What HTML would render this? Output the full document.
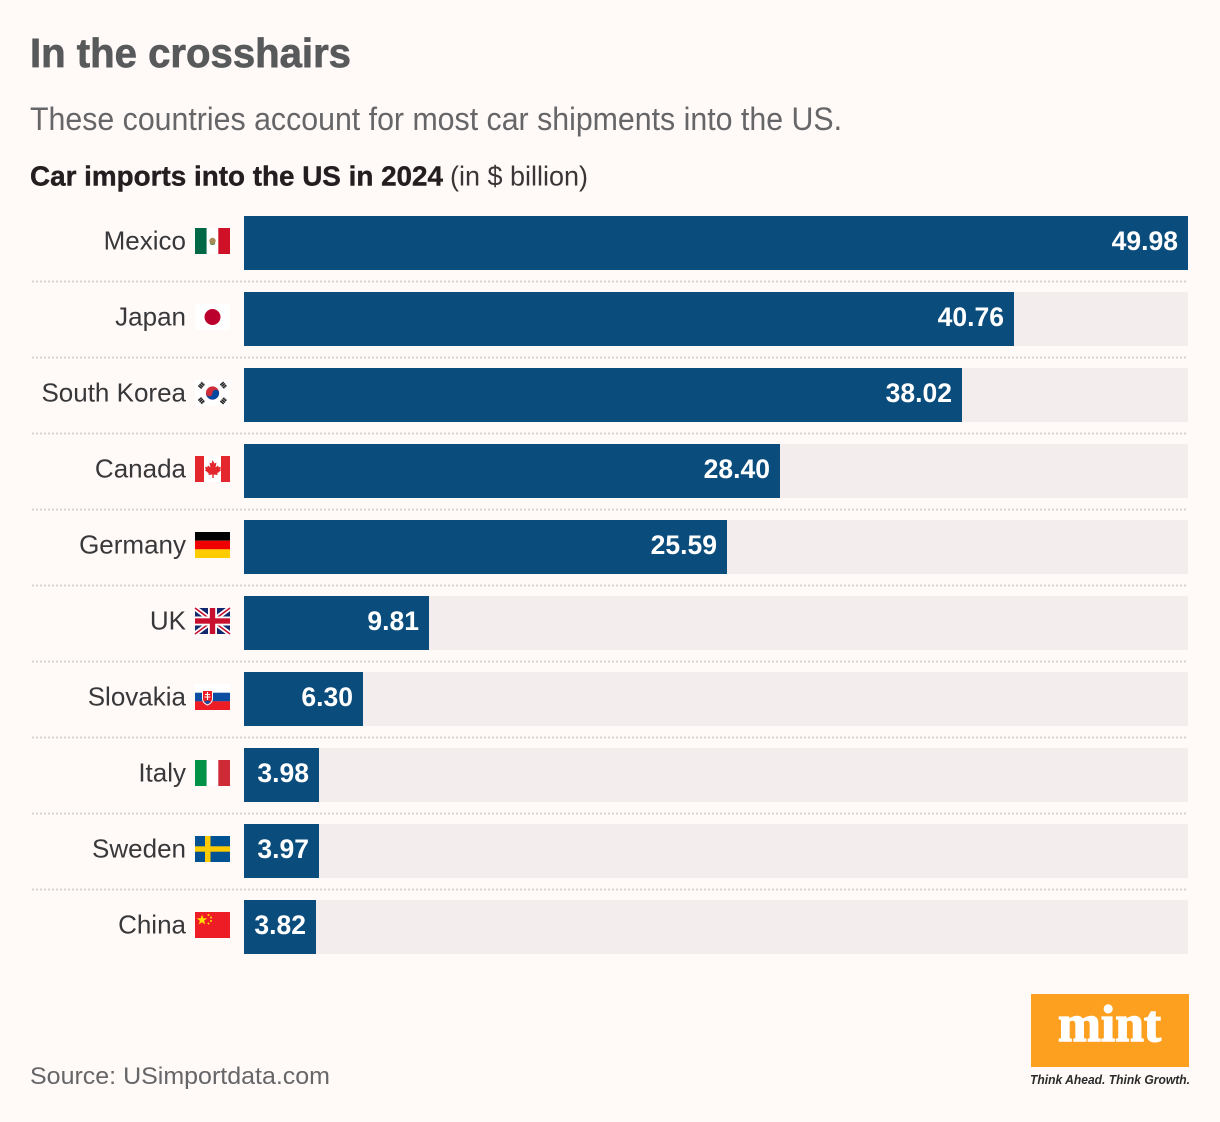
<!DOCTYPE html>
<html lang="en">
<head>
<meta charset="utf-8">
<title>In the crosshairs</title>
<style>
html,body{margin:0;padding:0;background:#fff9f8;}
svg{display:block;font-family:"Liberation Sans",sans-serif;}
</style>
</head>
<body>
<svg id="chart" xmlns="http://www.w3.org/2000/svg" width="1220" height="1122" viewBox="0 0 1220 1122">
  <rect x="0" y="0" width="1220" height="1122" fill="#fff9f8"/>
  <text x="30" y="67" font-size="40.500" font-weight="700" fill="#58595b" stroke="#58595b" stroke-width="0.7" textLength="321" lengthAdjust="spacingAndGlyphs">In the crosshairs</text>
  <text x="30" y="130" font-size="32" fill="#666668" textLength="812" lengthAdjust="spacingAndGlyphs">These countries account for most car shipments into the US.</text>
  <text x="30" y="185.500" font-size="28" font-weight="700" fill="#231f20" stroke="#231f20" stroke-width="0.4" textLength="413" lengthAdjust="spacingAndGlyphs">Car imports into the US in 2024</text>
  <text x="450" y="185.500" font-size="28" fill="#3a3637" textLength="138" lengthAdjust="spacingAndGlyphs">(in $ billion)</text>
  <g id="rows"></g>
  <text x="30" y="1084" font-size="24" fill="#666668" textLength="300" lengthAdjust="spacingAndGlyphs">Source: USimportdata.com</text>
  <g>
    <rect x="1031" y="994" width="158" height="73" fill="#fd9f1f"/>
    <text x="1109.500" y="1041" font-family="'Liberation Serif',serif" font-size="52" font-weight="700" fill="#ffffff" text-anchor="middle" textLength="103" lengthAdjust="spacingAndGlyphs" stroke="#ffffff" stroke-width="1.400">mint</text>
    <text x="1030" y="1084" font-size="13" font-style="italic" font-weight="700" fill="#2b2b2b" textLength="160" lengthAdjust="spacingAndGlyphs">Think Ahead. Think Growth.</text>
  </g>
</svg>
<script>
const categories = ["Mexico","Japan","South Korea","Canada","Germany","UK","Slovakia","Italy","Sweden","China"];
const values = [49.98,40.76,38.02,28.40,25.59,9.81,6.30,3.98,3.97,3.82];
const valueLabels = ["49.98","40.76","38.02","28.40","25.59","9.81","6.30","3.98","3.97","3.82"];
const flagCodes = ["mx","jp","kr","ca","de","uk","sk","it","se","cn"];

const NS = "http://www.w3.org/2000/svg";
const axisMax = 49.98;
const plotLeft = 244, plotRight = 1188;
const rowTop = 216, rowStep = 76, barHeight = 54;
function xScale(v){ return Math.round(plotLeft + (v / axisMax) * (plotRight - plotLeft)); }
function yScale(i){ return rowTop + i * rowStep; }

function stripesV(a,b,c){
  return '<rect x="0" y="0" width="11.7" height="26" fill="'+a+'"/><rect x="11.7" y="0" width="11.7" height="26" fill="'+b+'"/><rect x="23.3" y="0" width="11.7" height="26" fill="'+c+'"/>';
}
function stripesH(a,b,c){
  return '<rect x="0" y="0" width="35" height="8.7" fill="'+a+'"/><rect x="0" y="8.7" width="35" height="8.7" fill="'+b+'"/><rect x="0" y="17.3" width="35" height="8.7" fill="'+c+'"/>';
}
const flagArt = {
  mx: stripesV("#006847","#ffffff","#ce1126")+'<circle cx="17.5" cy="13" r="3.2" fill="#a98a5a"/><path d="M15 15.5q2.5 2 5 0" stroke="#4f8a4a" fill="none" stroke-width="1"/>',
  jp: '<rect x="0" y="0" width="35" height="26" fill="#ffffff"/><circle cx="17.5" cy="13" r="8" fill="#bc002d"/>',
  kr: '<rect x="0" y="0" width="35" height="26" fill="#ffffff"/><circle cx="17.5" cy="13" r="6.6" fill="#cd2e3a"/><path d="M10.9 13a3.3 3.3 0 0 0 6.6 0a3.3 3.3 0 0 1 6.6 0a6.6 6.6 0 0 1-13.2 0z" fill="#0047a0"/>'
    +'<g stroke="#222" stroke-width="4.500" stroke-dasharray="1.500 .4" fill="none"><path d="M4.500 7.500L8.500 3"/><path d="M26.500 3L30.500 7.500"/><path d="M4.500 18.500L8.500 23"/><path d="M26.500 23L30.500 18.500"/></g>',
  ca: '<rect x="0" y="0" width="35" height="26" fill="#ffffff"/><rect x="0" y="0" width="9" height="26" fill="#e3272c"/><rect x="26" y="0" width="9" height="26" fill="#e3272c"/><path d="M17.5 4l2 3.5 2-1-1 5 2.500-2 .7 1.700 2.300-.4-.8 2.700 1 .6-4 3.300.4 1.600-3.900-.5v3.500h-1.400v-3.500l-3.900.5.400-1.600-4-3.300 1-.6-.8-2.700 2.300.4.700-1.700 2.500 2-1-5 2 1z" fill="#e3272c"/>',
  de: stripesH("#000000","#f00000","#ffcc00"),
  uk: '<rect x="0" y="0" width="35" height="26" fill="#12296e"/><path d="M0 0L35 26M35 0L0 26" stroke="#ffffff" stroke-width="5"/><path d="M0 0L35 26M35 0L0 26" stroke="#c8102e" stroke-width="1.6"/><rect x="13" y="0" width="9" height="26" fill="#ffffff"/><rect x="0" y="8.500" width="35" height="9" fill="#ffffff"/><rect x="14.800" y="0" width="5.400" height="26" fill="#c8102e"/><rect x="0" y="10.300" width="35" height="5.400" fill="#c8102e"/>',
  sk: stripesH("#ffffff","#0b4ea2","#ee1c25")+'<path d="M7.500 6.500h10v8q0 4.500-5 6.500q-5-2-5-6.500z" fill="#ee1c25" stroke="#ffffff" stroke-width="1"/><path d="M12.500 8v8M10 10.500h5M9.500 13h6" stroke="#ffffff" stroke-width="1.100"/><path d="M9 18q3.500-3 7 0l-3.500 2.300z" fill="#0b4ea2"/>',
  it: stripesV("#009246","#ffffff","#ce2b37"),
  se: '<rect x="0" y="0" width="35" height="26" fill="#005293"/><rect x="10" y="0" width="5.500" height="26" fill="#fecb00"/><rect x="0" y="10.300" width="35" height="5.400" fill="#fecb00"/>',
  cn: '<rect x="0" y="0" width="35" height="26" fill="#ee1c25"/><polygon points="7,2.500 8.300,6.300 12.300,6.300 9.100,8.700 10.300,12.500 7,10.200 3.700,12.500 4.900,8.700 1.700,6.300 5.700,6.300" fill="#ffde00"/><g fill="#ffde00"><circle cx="13.500" cy="3" r="1"/><circle cx="16" cy="5.500" r="1"/><circle cx="16" cy="9" r="1"/><circle cx="13.500" cy="11.500" r="1"/></g>'
};

const rows = document.getElementById("rows");
categories.forEach(function(name, i){
  const slug = name.toLowerCase().replace(/\s+/g,"-");
  const y = yScale(i);
  const barEnd = xScale(values[i]);

  const track = document.createElementNS(NS,"rect");
  track.setAttribute("x", plotLeft);
  track.setAttribute("y", y);
  track.setAttribute("width", plotRight - plotLeft);
  track.setAttribute("height", barHeight);
  track.setAttribute("fill", "#f3eeed");
  
  
  rows.appendChild(track);

  const bar = document.createElementNS(NS,"rect");
  bar.setAttribute("x", plotLeft);
  bar.setAttribute("y", y);
  bar.setAttribute("width", barEnd - plotLeft);
  bar.setAttribute("height", barHeight);
  bar.setAttribute("fill", "#0a4c7c");
  
  
  rows.appendChild(bar);

  const val = document.createElementNS(NS,"text");
  val.setAttribute("x", barEnd - 10);
  val.setAttribute("y", y + 34);
  val.setAttribute("text-anchor", "end");
  val.setAttribute("font-size", "26.500");
  val.setAttribute("font-weight", "700");
  val.setAttribute("fill", "#ffffff");
  val.textContent = valueLabels[i];
  
  
  rows.appendChild(val);

  const label = document.createElementNS(NS,"text");
  label.setAttribute("x", 186);
  label.setAttribute("y", y + 33.500);
  label.setAttribute("text-anchor", "end");
  label.setAttribute("font-size", "26");
  label.setAttribute("fill", "#38383a");
  label.textContent = name;
  
  
  rows.appendChild(label);

  const flag = document.createElementNS(NS,"g");
  flag.setAttribute("transform", "translate(195," + (y + 12) + ")");
  flag.innerHTML = flagArt[flagCodes[i]];
  
  
  rows.appendChild(flag);

  if (i < categories.length - 1) {
    const rule = document.createElementNS(NS,"line");
    rule.setAttribute("x1", 32);
    rule.setAttribute("x2", plotRight);
    rule.setAttribute("y1", y + 65.5);
    rule.setAttribute("y2", y + 65.5);
    rule.setAttribute("stroke", "#d6d2d1");
    rule.setAttribute("stroke-width", "2");
    rule.setAttribute("stroke-dasharray", "2 2");
    
    
    rows.appendChild(rule);
  }
});
</script>
</body>
</html>
